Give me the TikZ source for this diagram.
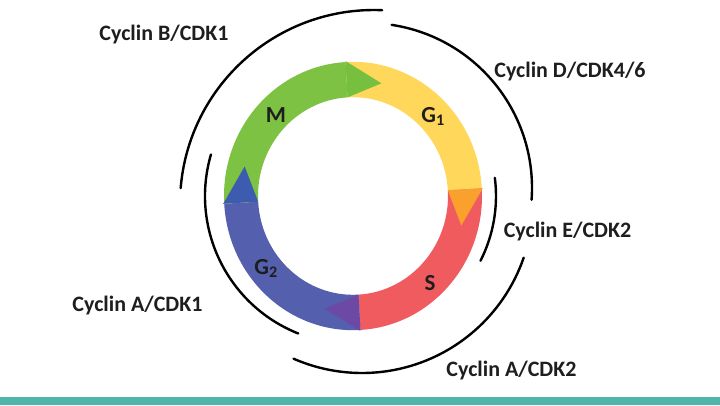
\documentclass[tikz,border=0pt]{standalone}
\usepackage{fontspec}
\setmainfont{Carlito}
\usepackage{tikz}
\usepackage{xcolor}

\definecolor{phaseM}{HTML}{7DC242}
\definecolor{phaseG1}{HTML}{FFD75B}
\definecolor{phaseS}{HTML}{F05B60}
\definecolor{phaseG2}{HTML}{5460AD}
\definecolor{tipM}{HTML}{76BF3F}
\definecolor{tipG1}{HTML}{F9A12C}
\definecolor{tipS}{HTML}{6B49A5}
\definecolor{tipG2}{HTML}{3D5CB0}
\definecolor{barteal}{HTML}{4FB5AB}
\definecolor{labeltext}{HTML}{1E1E1E}

\begin{document}
\begin{tikzpicture}[x=1pt, y=1pt,
  cyclin/.style={font=\fontsize{22}{25}\selectfont\bfseries, text=labeltext, inner sep=0pt, anchor=base},
  phase/.style={font=\fontsize{23}{26}\selectfont\bfseries, text=labeltext, inner sep=0pt, anchor=base},
  bracket/.style={line width=2.4pt, line cap=round}]
\useasboundingbox (0,0) rectangle (720,-405);
\fill[white] (0,0) rectangle (720,-405);
\fill[barteal] (0,-397) rectangle (720,-405);

\begin{scope}[shift={(353,-196)}, yscale=1.04]
\foreach \a/\b/\c in {93.3/3.3/phaseG1, 3.3/-86.7/phaseS, -86.7/-176.7/phaseG2, 183.3/93.3/phaseM}
  \fill[\c] (\a:129) arc[start angle=\a, end angle=\b, radius=129] -- (\b:95) arc[start angle=\b, end angle=\a, radius=95] -- cycle;
\foreach \a/\c in {93.3/tipM, 3.3/tipG1, -86.7/tipS, -176.7/tipG2}
  \fill[\c] (\a:130) -- (\a-18:112) -- (\a:95) -- cycle;
\end{scope}

\node[phase] (M) at (276,-122) {M};
\node[phase] (G1) at (433,-122) {G\textsubscript{1}};
\node[phase] (G2) at (266,-274) {G\textsubscript{2}};
\node[phase] (S) at (430,-290) {S};

\draw[bracket] (374,-204) ++(87.6:194) arc[start angle=87.6, end angle=175.3, radius=194];
\draw[bracket] (367,-188) ++(81.4:165) arc[start angle=81.4, end angle=-4.1, radius=165];
\draw[bracket] (353,-196) ++(7.3:143) arc[start angle=7.3, end angle=-26.9, radius=143];
\draw[bracket] (362,-202) ++(-19:171) arc[start angle=-19, end angle=-113.6, radius=171];
\draw[bracket] (353,-196) ++(163.7:148) arc[start angle=163.7, end angle=248.3, radius=148];

\node[cyclin] (cycB) at (164,-40) {Cyclin B/CDK1};
\node[cyclin] (cycD) at (570,-77) {Cyclin D/CDK4/6};
\node[cyclin] (cycE) at (567.5,-237) {Cyclin E/CDK2};
\node[cyclin] (cycA2) at (511.5,-376) {Cyclin A/CDK2};
\node[cyclin] (cycA1) at (137.5,-311) {Cyclin A/CDK1};
\end{tikzpicture}
\end{document}
